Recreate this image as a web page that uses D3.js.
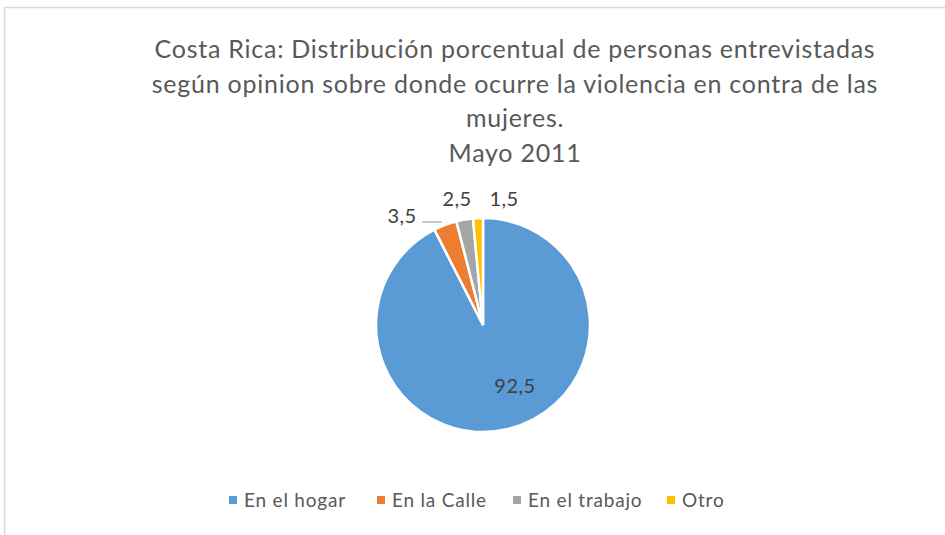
<!DOCTYPE html>
<html>
<head>
<meta charset="utf-8">
<script src="https://cdn.jsdelivr.net/npm/d3@7"></script>
<style>
  body { margin: 0; background: #fff; }
  text { font-family: Lato, "Open Sans", sans-serif; }
</style>
</head>
<body>
<div id="chart"></div>
<script>
var categories = ["En el hogar", "En la Calle", "En el trabajo", "Otro"];
var values = [92.5, 3.5, 2.5, 1.5];
var labels = ["92,5", "3,5", "2,5", "1,5"];
var colors = ["#5B9BD5", "#ED7D31", "#A5A5A5", "#FFC000"];
var titleLines = [
  "Costa Rica: Distribución porcentual de personas entrevistadas",
  "según opinion sobre donde ocurre la violencia en contra de las",
  "mujeres.",
  "Mayo 2011"
];

var width = 945, height = 535,
    cx = 483, cy = 325, radius = 107;

var svg = d3.select("#chart").append("svg")
    .attr("width", width)
    .attr("height", height);

// chart frame
svg.append("path")
    .attr("d", "M4.5,535 V7.5 H945")
    .attr("fill", "none")
    .attr("stroke", "#d9d9d9")
    .attr("stroke-width", 1.5);

// TITLE
svg.append("g").selectAll("text")
    .data(titleLines)
  .enter().append("text")
    .attr("x", 515)
    .attr("y", function(d, i) { return [58, 93, 127, 162][i]; })
    .attr("text-anchor", "middle")
    .attr("fill", "#595959")
    .style("font-size", "25px")
    .style("letter-spacing", "0.75px")
    .text(function(d) { return d; });

// PIE
var pie = d3.pie().sort(null).value(function(d) { return d; });
var arcs = pie(values);
var arc = d3.arc().innerRadius(0).outerRadius(radius);

var g = svg.append("g").attr("transform", "translate(" + cx + "," + cy + ")");

g.selectAll("path.slice")
    .data(arcs)
  .enter().append("path")
    .attr("class", "slice")
    .attr("d", arc)
    .attr("fill", function(d, i) { return colors[i]; })
    .attr("stroke", "#fff")
    .attr("stroke-width", 2.5);

// DATA LABELS
var labelPos = [[32, 68], [-81, -102], [-26, -119], [21, -119]];
g.selectAll("text.lbl")
    .data(arcs)
  .enter().append("text")
    .attr("class", "lbl")
    .attr("x", function(d, i) { return labelPos[i][0]; })
    .attr("y", function(d, i) { return labelPos[i][1]; })
    .attr("text-anchor", "middle")
    .attr("fill", "#404040")
    .style("font-size", "20px")
    .style("letter-spacing", "0.5px")
    .text(function(d, i) { return labels[i]; });

// leader line for 3,5
g.append("line")
    .attr("x1", -61).attr("y1", -103)
    .attr("x2", -41).attr("y2", -103)
    .attr("stroke", "#a6a6a6")
    .attr("stroke-width", 1.2);

// LEGEND
var legendX = [229, 377, 513, 667];
var legend = svg.append("g").selectAll("g")
    .data(categories)
  .enter().append("g")
    .attr("transform", function(d, i) { return "translate(" + legendX[i] + ",500)"; });

legend.append("rect")
    .attr("x", 0).attr("y", -4)
    .attr("width", 8).attr("height", 8)
    .attr("fill", function(d, i) { return colors[i]; });

legend.append("text")
    .attr("x", 15)
    .attr("y", 6.5)
    .attr("fill", "#595959")
    .style("font-size", "19px")
    .style("letter-spacing", "0.8px")
    .text(function(d) { return d; });
</script>
</body>
</html>
